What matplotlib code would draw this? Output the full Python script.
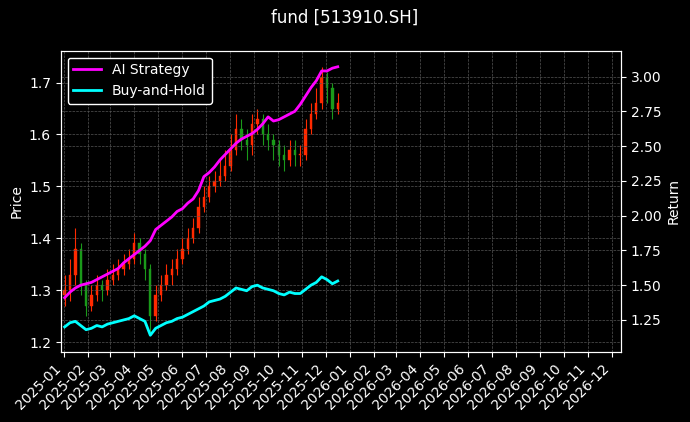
import matplotlib
matplotlib.use("Agg")
import matplotlib.pyplot as plt
import matplotlib.dates as mdates
import pandas as pd
import numpy as np

dates = pd.date_range("2025-01-02", periods=52, freq="164h")
close = [1.30,1.33,1.38,1.31,1.27,1.29,1.31,1.30,1.32,1.33,1.34,1.35,1.36,1.39,1.37,1.34,
         1.25,1.29,1.31,1.33,1.34,1.36,1.38,1.40,1.42,1.46,1.48,1.50,1.51,1.52,1.54,1.57,
         1.61,1.59,1.58,1.62,1.63,1.60,1.59,1.58,1.56,1.55,1.57,1.56,1.56,1.61,1.64,1.66,
         1.71,1.69,1.65,1.66]
open_ = [1.29,1.30,1.33,1.38,1.31,1.27,1.29,1.31,1.30,1.32,1.33,1.34,1.35,1.36,1.39,1.37,
         1.34,1.25,1.29,1.31,1.33,1.34,1.36,1.38,1.40,1.42,1.46,1.48,1.50,1.51,1.52,1.54,
         1.57,1.61,1.59,1.58,1.62,1.63,1.60,1.59,1.58,1.56,1.55,1.57,1.56,1.56,1.61,1.64,
         1.66,1.71,1.69,1.65]
high = [1.33,1.36,1.42,1.39,1.32,1.31,1.33,1.32,1.34,1.35,1.36,1.37,1.38,1.41,1.40,1.38,
        1.35,1.31,1.33,1.35,1.36,1.38,1.40,1.42,1.44,1.48,1.50,1.52,1.53,1.55,1.57,1.60,
        1.64,1.63,1.61,1.64,1.65,1.64,1.62,1.60,1.59,1.58,1.59,1.59,1.58,1.63,1.66,1.69,
        1.73,1.72,1.70,1.68]
low = [1.27,1.28,1.31,1.29,1.25,1.26,1.28,1.28,1.29,1.31,1.32,1.33,1.34,1.35,1.35,1.32,
       1.22,1.24,1.28,1.30,1.31,1.33,1.35,1.37,1.39,1.41,1.45,1.47,1.49,1.50,1.51,1.53,
       1.56,1.57,1.55,1.56,1.60,1.58,1.57,1.55,1.54,1.53,1.54,1.54,1.54,1.55,1.60,1.63,
       1.65,1.66,1.63,1.64]
ai_return = [1.41,1.45,1.48,1.50,1.51,1.52,1.54,1.56,1.58,1.60,1.62,1.66,1.69,1.72,1.75,1.78,
             1.82,1.90,1.93,1.96,1.99,2.03,2.05,2.09,2.12,2.18,2.28,2.31,2.35,2.40,2.44,2.48,
             2.52,2.55,2.57,2.59,2.62,2.66,2.71,2.68,2.69,2.71,2.73,2.75,2.80,2.86,2.92,2.97,
             3.04,3.04,3.06,3.07]
bh_return = [1.20,1.23,1.24,1.21,1.18,1.19,1.21,1.20,1.22,1.23,1.24,1.25,1.26,1.28,1.26,1.24,
             1.14,1.19,1.21,1.23,1.24,1.26,1.27,1.29,1.31,1.33,1.35,1.38,1.39,1.40,1.42,1.45,
             1.48,1.47,1.46,1.49,1.50,1.48,1.47,1.46,1.44,1.43,1.45,1.44,1.44,1.47,1.50,1.52,
             1.56,1.54,1.51,1.53]

plt.style.use("dark_background")
fig, ax = plt.subplots(figsize=(6.9, 4.22), dpi=100)
fig.patch.set_facecolor("black")
ax.set_facecolor("black")
fig.subplots_adjust(left=0.088, right=0.9, top=0.88, bottom=0.166)

for d, o, h, l, c in zip(dates, open_, high, low, close):
    col = "#ff2a00" if c >= o else "#1a9a1a"
    ax.vlines(d, l, h, color=col, linewidth=0.8)
    ax.bar(d, abs(c - o) if abs(c - o) > 0.002 else 0.002, bottom=min(o, c), width=3,
           color=col, edgecolor=col, linewidth=0.3)

ax.set_ylabel("Price")
ax.set_ylim(1.181, 1.7615)
ax.set_xlim(pd.Timestamp("2024-12-28"), pd.Timestamp("2026-12-13"))
ax.xaxis.set_major_locator(mdates.MonthLocator())
ax.xaxis.set_major_formatter(mdates.DateFormatter("%Y-%m"))
plt.setp(ax.get_xticklabels(), rotation=45, ha="right")
ax.grid(True, color="#555555", linestyle="--", linewidth=0.5)

ax2 = ax.twinx()
ax2.plot(dates, ai_return, color="magenta", linewidth=2, label="AI Strategy")
ax2.plot(dates, bh_return, color="cyan", linewidth=2, label="Buy-and-Hold")
ax2.set_ylim(1.02, 3.186)
ax2.set_ylabel("Return")
ax2.grid(True, color="#555555", linestyle="--", linewidth=0.5)
leg = ax2.legend(loc="upper left", facecolor="black", edgecolor="white", framealpha=1)

fig.suptitle("fund [513910.SH]")
fig.savefig("out.png", dpi=100, facecolor="black")
